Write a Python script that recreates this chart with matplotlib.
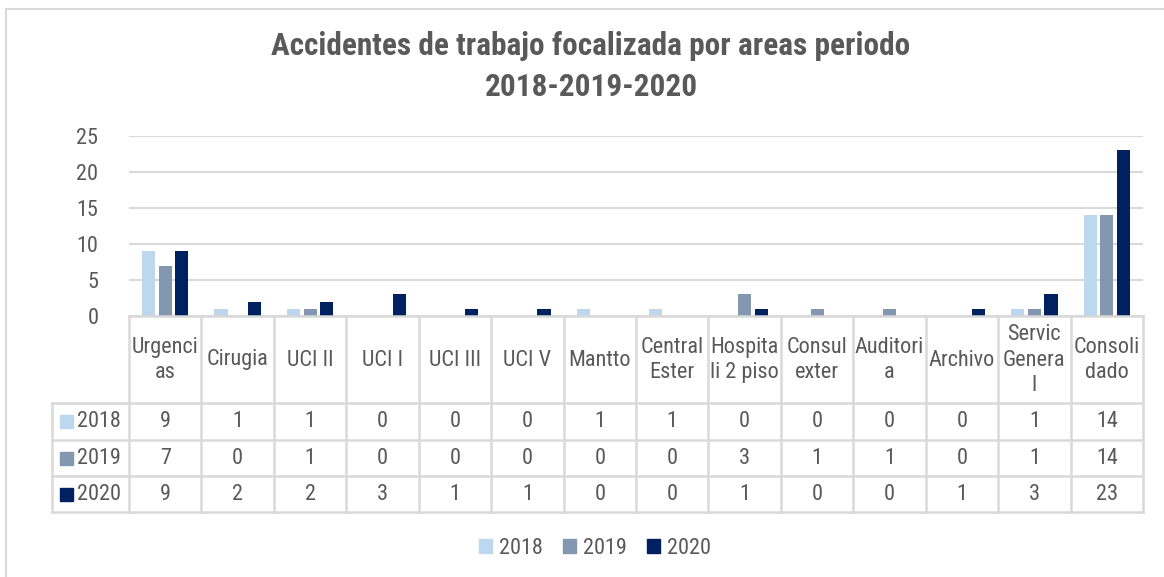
import matplotlib
matplotlib.use("Agg")
import matplotlib.pyplot as plt
import numpy as np
from matplotlib.patches import Rectangle

plt.rcParams['font.family'] = ['Roboto Condensed', 'PT Sans Narrow', 'Liberation Sans', 'DejaVu Sans']

categories = ["Urgenci\nas", "Cirugia", "UCI II", "UCI I", "UCI III", "UCI V", "Mantto",
              "Central\nEster", "Hospita\nli 2 piso", "Consul\nexter", "Auditori\na",
              "Archivo", "Servic\nGenera\nl", "Consoli\ndado"]
series_names = ["2018", "2019", "2020"]
v2018 = [9, 1, 1, 0, 0, 0, 1, 1, 0, 0, 0, 0, 1, 14]
v2019 = [7, 0, 1, 0, 0, 0, 0, 0, 3, 1, 1, 0, 1, 14]
v2020 = [9, 2, 2, 3, 1, 1, 0, 0, 1, 0, 0, 1, 3, 23]
yticks = [0, 5, 10, 15, 20, 25]
title = "Accidentes de trabajo focalizada por areas periodo\n2018-2019-2020"

colors = ["#BDD7EE", "#8497B0", "#002060"]
TXT = "#595959"
GRID = "#D9D9D9"
FS = 16

W, H = 1164, 577
fig = plt.figure(figsize=(W / 100, H / 100), dpi=100)

def fx(px):
    return px / W

def fy(py):
    return 1 - py / H

# chart border
fig.patches.append(Rectangle((fx(6), fy(600)), fx(1200), fy(9) - fy(600),
                             transform=fig.transFigure, fill=False,
                             edgecolor="#D9D9D9", lw=1.5))

# main plot axes
L, R, T, B = 129, 1143, 136, 316
ax = fig.add_axes([fx(L), fy(B), fx(R - L), fy(T) - fy(B)])
n = len(categories)
x = np.arange(n)
off = 0.23
bw = 0.18
for i, (vals, c) in enumerate(zip([v2018, v2019, v2020], colors)):
    ax.bar(x + (i - 1) * off, vals, width=bw, color=c, zorder=3)
ax.set_xlim(-0.5, n - 0.5)
ax.set_ylim(0, 25)
ax.set_yticks(yticks)
ax.set_yticklabels([str(t) for t in yticks], fontsize=FS, color=TXT)
ax.tick_params(axis='y', length=0, pad=22)
ax.set_xticks([])
for s in ax.spines.values():
    s.set_visible(False)
ax.grid(axis='y', color=GRID, lw=1.5, zorder=0)
ax.set_axisbelow(True)

fig.text(fx(591), fy(66.5), title, ha='center', va='center', fontsize=22.5,
         fontweight='bold', color=TXT, linespacing=1.45)

# data table axes
TL, TB = 52, 512
unit = (R - L) / n
xl = -0.5 - (L - TL) / unit
tax = fig.add_axes([fx(TL), fy(TB), fx(R - TL), fy(B) - fy(TB)])
tax.set_xlim(xl, n - 0.5)
tax.set_ylim(TB - B, 0)
tax.axis('off')
rows_y = [0, 87, 124, 160, 196]
lw = 1.8
for k in range(n + 1):
    tax.plot([k - 0.5, k - 0.5], [0, 196], color=GRID, lw=lw, clip_on=False)
tax.plot([xl, xl], [87, 196], color=GRID, lw=lw, clip_on=False)
tax.plot([-0.5, n - 0.5], [0, 0], color=GRID, lw=lw, clip_on=False)
for yy in rows_y[1:]:
    tax.plot([xl, n - 0.5], [yy, yy], color=GRID, lw=lw, clip_on=False)

for i, cat in enumerate(categories):
    tax.text(i, 44, cat, ha='center', va='center', fontsize=FS, color=TXT,
             linespacing=1.3)
for r, (name, vals, c) in enumerate(zip(series_names, [v2018, v2019, v2020], colors)):
    yc = (rows_y[r + 1] + rows_y[r + 2]) / 2
    tax.add_patch(Rectangle((xl + 8 / unit, yc - 6.5), 13 / unit, 13, color=c,
                            clip_on=False))
    tax.text(xl + 25 / unit, yc, name, ha='left', va='center', fontsize=FS, color=TXT)
    for i, v in enumerate(vals):
        tax.text(i, yc, str(v), ha='center', va='center', fontsize=FS, color=TXT)

# legend
handles = [Rectangle((0, 0), 1, 1, color=c) for c in colors]
fig.legend(handles, series_names, loc='center', bbox_to_anchor=(fx(595), fy(548)),
           ncol=3, frameon=False, fontsize=FS, handlelength=0.6, handleheight=0.6,
           handletextpad=0.3, columnspacing=0.9, labelcolor=TXT)

fig.savefig("out.png", dpi=100)
